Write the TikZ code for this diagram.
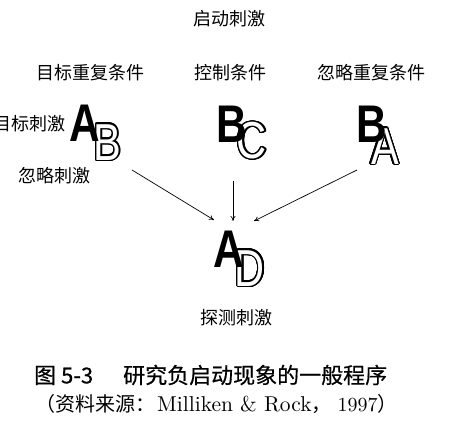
\documentclass[tikz,border=0pt]{standalone}
\usepackage{fontspec}
\usepackage{graphicx}
\newfontfamily\cjk{Noto Sans CJK SC}
\newfontfamily\cjkb[FakeBold=0.5]{Noto Sans CJK SC}
\newfontfamily\lsans{Liberation Sans}
\newfontfamily\lmten{lmroman10-regular.otf}
\usetikzlibrary{arrows.meta,calc}
\newcommand\outlinelet[3]{%
  \foreach \ang in {0,15,...,345}{\node[olet,text=black] at ($(#1)+(\ang:1.4pt)$) {\scalebox{0.8}[1]{#2}};}
  \node[olet,text=white] (#3) at (#1) {\scalebox{0.8}[1]{#2}};}
\newcommand\blacklet[3]{\node[blet] (#3) at (#1) {\scalebox{0.8}[1]{#2}};}
\begin{document}
\begin{tikzpicture}[x=1pt,y=-1pt,
  lab/.style={font={\cjk\fontsize{18}{20}\selectfont}, inner sep=0pt},
  blet/.style={font={\lsans\bfseries\fontsize{53}{53}\selectfont}, inner sep=0pt, anchor=base},
  olet/.style={font={\lsans\fontsize{52}{52}\selectfont}, inner sep=0pt, anchor=base},
  arr/.style={-{To[length=5pt,width=5pt]}, line width=0.7pt}]
\useasboundingbox[fill=white] (0,0) rectangle (453,437);

% labels
\node[lab] (prime) at (229,19) {启动刺激};
\node[lab] (c1) at (90,73) {目标重复条件};
\node[lab] (c2) at (230,73) {控制条件};
\node[lab] (c3) at (371,73) {忽略重复条件};
\node[lab, anchor=east] (target) at (66,124) {目标刺激};
\node[lab] (ignore) at (55,176) {忽略刺激};
\node[lab] (probe) at (236,318) {探测刺激};

% letter positions
\coordinate (pB1) at (107.5,160);
\coordinate (pC2) at (252,158.5);
\coordinate (pA3) at (385,164);
\coordinate (pD4) at (250,286);
\coordinate (pA1) at (85,141);
\coordinate (pB2) at (232,142);
\coordinate (pB3) at (372,142);
\coordinate (pA4) at (229,267);

\outlinelet{pB1}{B}{oB1}
\outlinelet{pC2}{C}{oC2}
\outlinelet{pA3}{A}{oA3}
\outlinelet{pD4}{D}{oD4}
\blacklet{pA1}{A}{bA1}
\blacklet{pB2}{B}{bB2}
\blacklet{pB3}{B}{bB3}
\blacklet{pA4}{A}{bA4}

% arrows
\coordinate (s1) at (132,170);
\coordinate (t1) at (214,220);
\coordinate (s2) at (233,181);
\coordinate (t2) at (233,221);
\coordinate (s3) at (357,170);
\coordinate (t3) at (254,221);
\draw[arr] (s1) -- (t1);
\draw[arr] (s2) -- (t2);
\draw[arr] (s3) -- (t3);

% caption
\node[anchor=west, inner sep=0pt, font={\cjkb\fontsize{22}{24}\selectfont}] (cap1) at (34,375)
  {图 5-3\hspace{30pt}研究负启动现象的一般程序};
\node[anchor=west, inner sep=0pt, font={\cjk\fontsize{20}{22}\selectfont}] (cap2) at (35,404)
  {（资料来源：\hspace{2pt}{\lmten\fontsize{21.5}{22}\selectfont Milliken \& Rock}，\hspace{6pt}{\lmten\fontsize{20}{22}\selectfont 1997}）};
\end{tikzpicture}
\end{document}
